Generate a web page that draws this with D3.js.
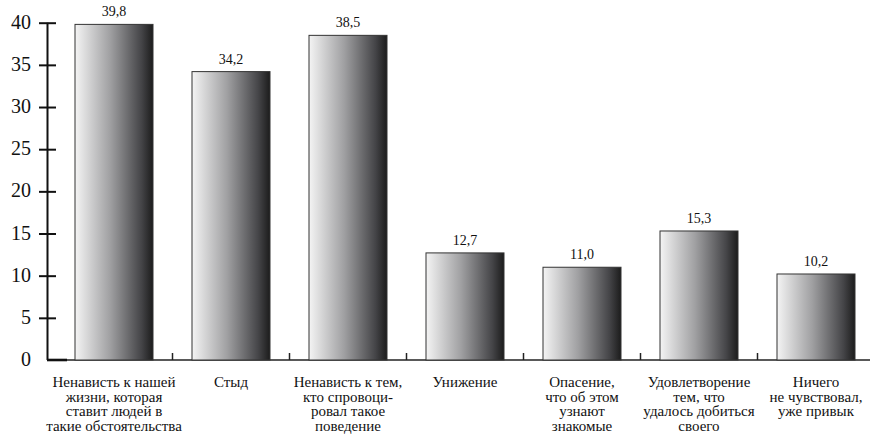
<!DOCTYPE html>
<html>
<head>
<meta charset="utf-8">
<script src="https://cdn.jsdelivr.net/npm/d3@7"></script>
<style>
  body { margin: 0; background: #fff; font-family: 'Liberation Serif', 'Times New Roman', serif; }
  #chart { position: relative; width: 870px; height: 435px; overflow: hidden; }
  #chart svg { position: absolute; left: 0; top: 0; }
  .lbl { position: absolute; font-family: 'Liberation Serif', 'Times New Roman', serif; color: #111; white-space: nowrap; }
</style>
</head>
<body>
<div id="chart"></div>
<script>
const categories = [
  'Ненависть к нашей|жизни, которая|ставит людей в|такие обстоятельства',
  'Стыд',
  'Ненависть к тем,|кто спровоци-|ровал такое|поведение',
  'Унижение',
  'Опасение,|что об этом|узнают|знакомые',
  'Удовлетворение|тем, что|удалось добиться|своего',
  'Ничего|не чувствовал,|уже привык'
];
const values = [39.8, 34.2, 38.5, 12.7, 11.0, 15.3, 10.2];
const yTicks = [0, 5, 10, 15, 20, 25, 30, 35, 40];

const width = 870, height = 435;
const chart = d3.select('#chart');

const svg = chart
  .append('svg')
  .attr('width', width)
  .attr('height', height);

// bar gradient, light on the left, dark on the right
const grad = svg.append('defs').append('linearGradient')
  .attr('id', 'barGrad')
  .attr('x1', '0%').attr('x2', '100%')
  .attr('y1', '0%').attr('y2', '0%');
[['0%', '#f4f4f4'], ['45%', '#a0a0a2'], ['85%', '#454548'], ['100%', '#1c1c1c']]
  .forEach(([o, c]) => grad.append('stop').attr('offset', o).attr('stop-color', c));

const x = d3.scaleBand()
  .domain(d3.range(categories.length))
  .range([55.5, 874.5])
  .paddingInner(1 / 3)
  .paddingOuter(1 / 6);

const y = d3.scaleLinear()
  .domain([0, 40])
  .range([360, 22.7]);

// y axis: line and ticks from d3 axis, labels as html text
const yAxis = svg.append('g')
  .attr('transform', 'translate(47.5,0)')
  .call(d3.axisLeft(y).tickValues(yTicks.filter(d => d > 0)).tickSize(8.5).tickFormat(''));
yAxis.select('.domain')
  .attr('d', `M0,${y(40)}V${y(0)}`)
  .attr('stroke', '#111').attr('stroke-width', 2);
yAxis.selectAll('.tick line')
  .attr('x1', 8.5)
  .attr('stroke', '#111').attr('stroke-width', 2);

chart.selectAll('.ylab')
  .data(yTicks)
  .enter()
  .append('div')
  .attr('class', 'lbl')
  .style('font-size', '20px')
  .style('line-height', '20px')
  .style('right', (width - 31) + 'px')
  .style('top', d => (y(d) - 11) + 'px')
  .text(d => d);

// x axis baseline
svg.append('line')
  .attr('x1', 47).attr('x2', width)
  .attr('y1', y(0)).attr('y2', y(0))
  .attr('stroke', '#222').attr('stroke-width', 1.6);
svg.append('line')
  .attr('x1', 47).attr('x2', 67)
  .attr('y1', y(0)).attr('y2', y(0))
  .attr('stroke', '#111').attr('stroke-width', 2.6);

// small separators between bars
svg.selectAll('.sep')
  .data(d3.range(1, categories.length))
  .enter()
  .append('line')
  .attr('x1', d => x(d) - x.step() * x.paddingInner() / 2)
  .attr('x2', d => x(d) - x.step() * x.paddingInner() / 2)
  .attr('y1', y(0)).attr('y2', y(0) - 7)
  .attr('stroke', '#222').attr('stroke-width', 1.5);

// bars
svg.selectAll('.bar')
  .data(values)
  .enter()
  .append('rect')
  .attr('class', 'bar')
  .attr('x', (d, i) => x(i))
  .attr('width', x.bandwidth())
  .attr('y', d => y(d))
  .attr('height', d => y(0) - y(d))
  .attr('fill', 'url(#barGrad)')
  .attr('stroke', '#333')
  .attr('stroke-width', 1);

// value labels
chart.selectAll('.val')
  .data(values)
  .enter()
  .append('div')
  .attr('class', 'lbl')
  .style('font-size', '14px')
  .style('line-height', '14px')
  .style('width', '80px')
  .style('text-align', 'center')
  .style('left', (d, i) => (x(i) + x.bandwidth() / 2 - 40) + 'px')
  .style('top', d => (y(d) - 19) + 'px')
  .text(d => d.toFixed(1).replace('.', ','));

// category labels
chart.selectAll('.cat')
  .data(categories)
  .enter()
  .append('div')
  .attr('class', 'lbl')
  .style('font-size', '15px')
  .style('line-height', '14.6px')
  .style('width', '140px')
  .style('text-align', 'center')
  .style('left', (d, i) => (x(i) + x.bandwidth() / 2 - 70) + 'px')
  .style('top', '375px')
  .html(d => d.split('|').join('<br>'));
</script>
</body>
</html>
